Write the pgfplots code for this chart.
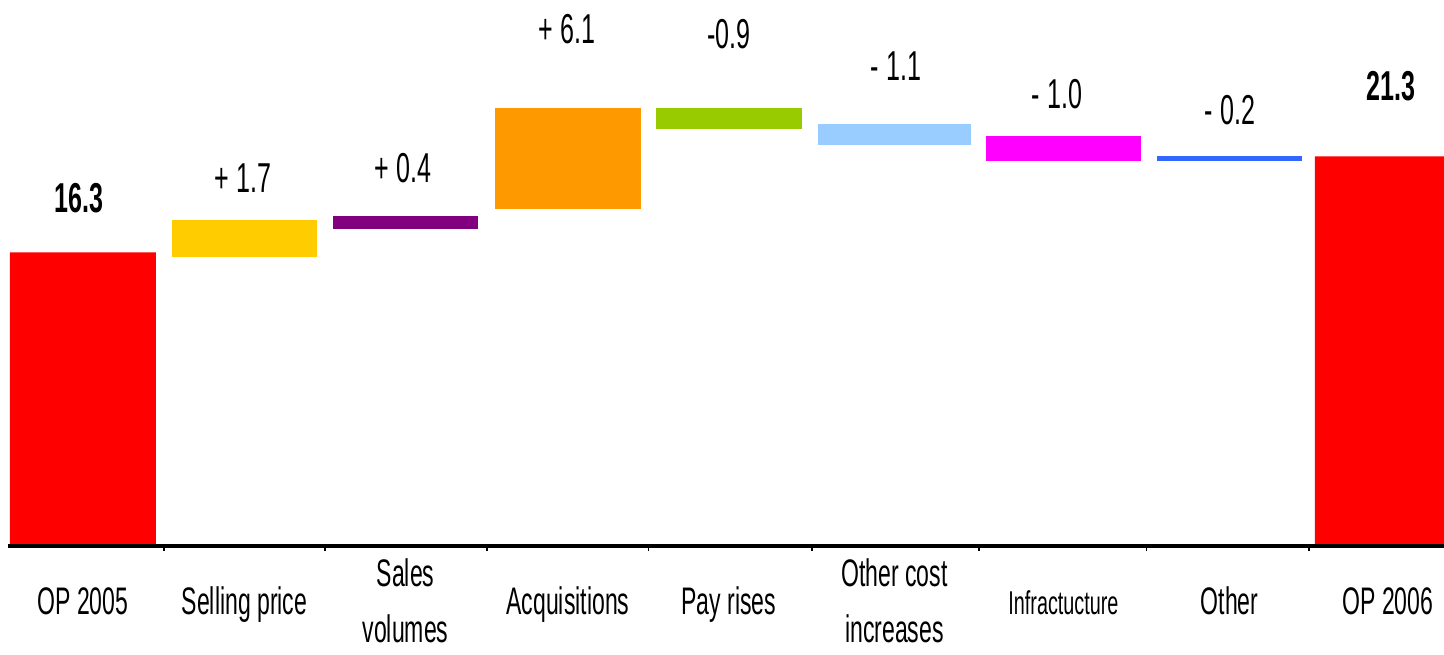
\documentclass[border=0pt]{standalone}
\usepackage{pgfplots}
\pgfplotsset{compat=1.18}
\usepackage{pgfplotstable}
\usepackage{fontspec}
\setmainfont{Liberation Sans}[FakeStretch=0.6]

\definecolor{opred}{HTML}{FF0000}
\definecolor{cyellow}{HTML}{FFCC00}
\definecolor{cpurple}{HTML}{800080}
\definecolor{corange}{HTML}{FF9900}
\definecolor{cgreen}{HTML}{99CC00}
\definecolor{clblue}{HTML}{99CCFF}
\definecolor{cmagenta}{HTML}{FF00FF}
\definecolor{cblue}{HTML}{3366FF}

% floating bars: invisible base + visible height
\pgfplotstableread{
x      base    h
0.000  0.00    16.30
0.991  16.04   1.93
1.979  17.50   0.68
2.975  18.54   5.28
3.963  22.71   1.11
4.979  21.88   1.09
6.015  21.04   1.30
7.034  21.06   0.24
8.006  0.00    21.30
}\bars

\pgfplotstableread[col sep=comma]{
x,y,label
-0.025,18.39,\textbf{16.3}
0.982,19.43,+ 1.7
1.963,19.95,+ 0.4
2.969,27.19,+ 6.1
3.963,26.93,-0.9
4.988,25.26,- 1.1
5.975,23.80,- 1.0
7.037,22.97,- 0.2
8.025,24.22,\textbf{21.3}
}\labels

\pgfplotsset{
  geom/.style={
    scale only axis, width=718pt, height=273pt,
    xmin=-0.46, xmax=8.35, ymin=1, ymax=29.44,
  },
}

\begin{document}
\begin{tikzpicture}
\useasboundingbox (-4pt,-54pt) rectangle (718pt,273pt);
\begin{axis}[
  geom,
  ybar stacked,
  axis on top,
  axis x line*=bottom,
  axis y line=none,
  x axis line style={line width=2.4pt, black},
  xtick={0.000,0.991,1.979,2.975,3.963,4.979,6.015,7.034,8.006},
  xticklabels={
    OP 2005,
    Selling price,
    {\renewcommand{\arraystretch}{1.233}\begin{tabular}[c]{@{}c@{}}Sales\\volumes\end{tabular}},
    Acquisitions,
    Pay rises,
    {\renewcommand{\arraystretch}{1.233}\begin{tabular}[c]{@{}c@{}}Other cost\\increases\end{tabular}},
    {\fontsize{16.5}{19}\selectfont Infractucture},
    Other,
    OP 2006},
  minor xtick={0.4955,1.485,2.477,3.469,4.471,5.497,6.5245,7.52},
  major tick length=0pt,
  minor tick length=2.5pt,
  tick align=outside,
  tick style={black, line width=0.8pt},
  xticklabel style={font=\fontsize{19.2}{22.7}\selectfont, anchor=base, yshift=-34pt, inner sep=0pt},
  ytick=\empty,
]
\addplot[draw=none, fill=none, forget plot] table[x=x, y=base]{\bars};
\addplot[fill=opred, draw=none, bar width=73pt] table[x=x, y expr={(\coordindex==0 || \coordindex==8) ? \thisrow{h} : 0}]{\bars};
\addplot[fill=cyellow, draw=none, bar width=72.5pt] table[x=x, y expr={(\coordindex==1) ? \thisrow{h} : 0}]{\bars};
\addplot[fill=cpurple, draw=none, bar width=72.5pt] table[x=x, y expr={(\coordindex==2) ? \thisrow{h} : 0}]{\bars};
\addplot[fill=corange, draw=none, bar width=73pt] table[x=x, y expr={(\coordindex==3) ? \thisrow{h} : 0}]{\bars};
\addplot[fill=cgreen, draw=none, bar width=73pt] table[x=x, y expr={(\coordindex==4) ? \thisrow{h} : 0}]{\bars};
\addplot[fill=clblue, draw=none, bar width=76.5pt] table[x=x, y expr={(\coordindex==5) ? \thisrow{h} : 0}]{\bars};
\addplot[fill=cmagenta, draw=none, bar width=77.5pt] table[x=x, y expr={(\coordindex==6) ? \thisrow{h} : 0}]{\bars};
\addplot[fill=cblue, draw=none, bar width=72.5pt] table[x=x, y expr={(\coordindex==7) ? \thisrow{h} : 0}]{\bars};
\end{axis}
\begin{axis}[geom, hide axis, clip=false]
\addplot[only marks, mark=none, nodes near coords, point meta=explicit symbolic,
  nodes near coords style={anchor=base, inner sep=0pt, font=\fontsize{20.9}{25}\selectfont, text=black}]
  table[x=x, y=y, meta=label]{\labels};
\end{axis}
\end{tikzpicture}
\end{document}
